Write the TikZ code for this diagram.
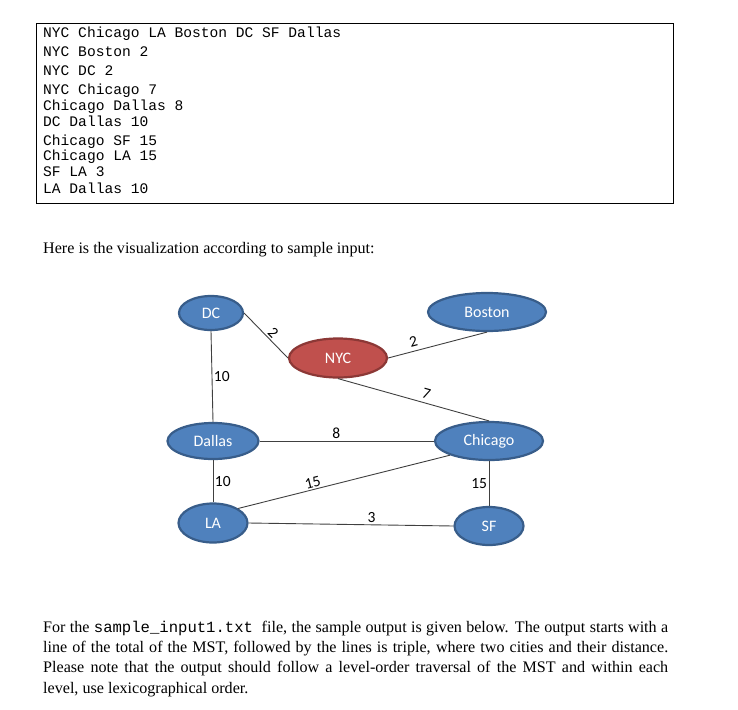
\documentclass[tikz,border=0pt]{standalone}
\usepackage{fontspec}
\setmainfont{Liberation Serif}
\newfontfamily\codefont{Liberation Mono}
\newfontfamily\calfont{Carlito}
\usetikzlibrary{shapes.geometric}

\definecolor{cityblue}{HTML}{4F81BD}
\definecolor{cityrim}{HTML}{385D8A}
\definecolor{hubred}{HTML}{C0504D}
\definecolor{hubrim}{HTML}{8C3836}

\begin{document}
\begin{tikzpicture}[x=1pt,y=-1pt,
  city/.style={ellipse,draw=cityrim,line width=2.2pt,fill=cityblue,text=white,
    font=\calfont\fontsize{16}{18}\selectfont,inner sep=0pt},
  road/.style={draw=black!75,line width=0.9pt},
  dist/.style={font=\calfont\fontsize{15.5}{17}\selectfont,inner sep=1.5pt},
  code/.style={anchor=base west,font=\codefont\fontsize{14.6}{16}\selectfont,inner sep=0pt},
  prose/.style={anchor=base west,font=\fontsize{16.1}{18}\selectfont,inner sep=0pt}]
\useasboundingbox (0,0) rectangle (738,709);

% sample input box
\draw[line width=1pt] (36,24) rectangle (673,203);
\foreach \yy/\txt [count=\i] in {37.5/NYC Chicago LA Boston DC SF Dallas,
    56.5/NYC Boston 2, 75/NYC DC 2, 94.5/NYC Chicago 7, 110/Chicago Dallas 8,
    126/DC Dallas 10, 145/Chicago SF 15, 160.5/Chicago LA 15, 176.5/SF LA 3,
    193/LA Dallas 10}
  \node[code] (in\i) at (43,\yy) {\txt};

\node[prose] (intro) at (43,253) {Here is the visualization according to sample input:};

% cities
\node[city,minimum width=64pt,minimum height=34pt] (dc) at (211,313) {DC};
\node[city,minimum width=118pt,minimum height=38pt] (boston) at (487,312) {Boston};
\node[city,minimum width=98pt,minimum height=39pt,fill=hubred,draw=hubrim] (nyc) at (338,358) {NYC};
\node[city,minimum width=91pt,minimum height=36pt] (dallas) at (213,441) {Dallas};
\node[city,minimum width=108pt,minimum height=38pt] (chicago) at (489,441) {Chicago};
\node[city,minimum width=69pt,minimum height=39pt] (la) at (213,523) {LA};
\node[city,minimum width=69pt,minimum height=38pt] (sf) at (489,526) {SF};

% roads
\draw[road] (dc.east) -- node[dist,sloped,above,pos=.55]{2} (nyc.west);
\draw[road] (nyc.east) -- node[dist,sloped,above,pos=.28,yshift=2pt]{2} (boston.south);
\draw[road] (nyc.south) -- node[dist,sloped,above,pos=.57,yshift=2pt]{7} (chicago.north);
\draw[road] (dc.south) -- node[dist,right]{10} (dallas.north);
\draw[road] (dallas.east) -- node[dist,above,pos=.44]{8} (chicago.west);
\draw[road] (dallas.south) -- node[dist,right]{10} (la.north);
\draw[road] (chicago.200) -- node[dist,sloped,above,pos=.64]{15} (la.30);
\draw[road] (chicago.south) -- node[dist,left]{15} (sf.north);
\draw[road] (la.east) -- node[dist,above,pos=.6]{3} (sf.west);

% sample output text
\node[prose] (out1) at (43,632) {\makebox[625pt][s]{For the {\codefont\fontsize{15.6}{18}\selectfont sample\_input1.txt}\ \ file, the sample output is given below. The output starts with a}};
\node[prose] (out2) at (43,652) {\makebox[625pt][s]{line of the total of the MST, followed by the lines is triple, where two cities and their distance.}};
\node[prose] (out3) at (43,672) {\makebox[625pt][s]{Please note that the output should follow a level-order traversal of the MST and within each}};
\node[prose] (out4) at (43,693) {level, use lexicographical order.};
\end{tikzpicture}
\end{document}
